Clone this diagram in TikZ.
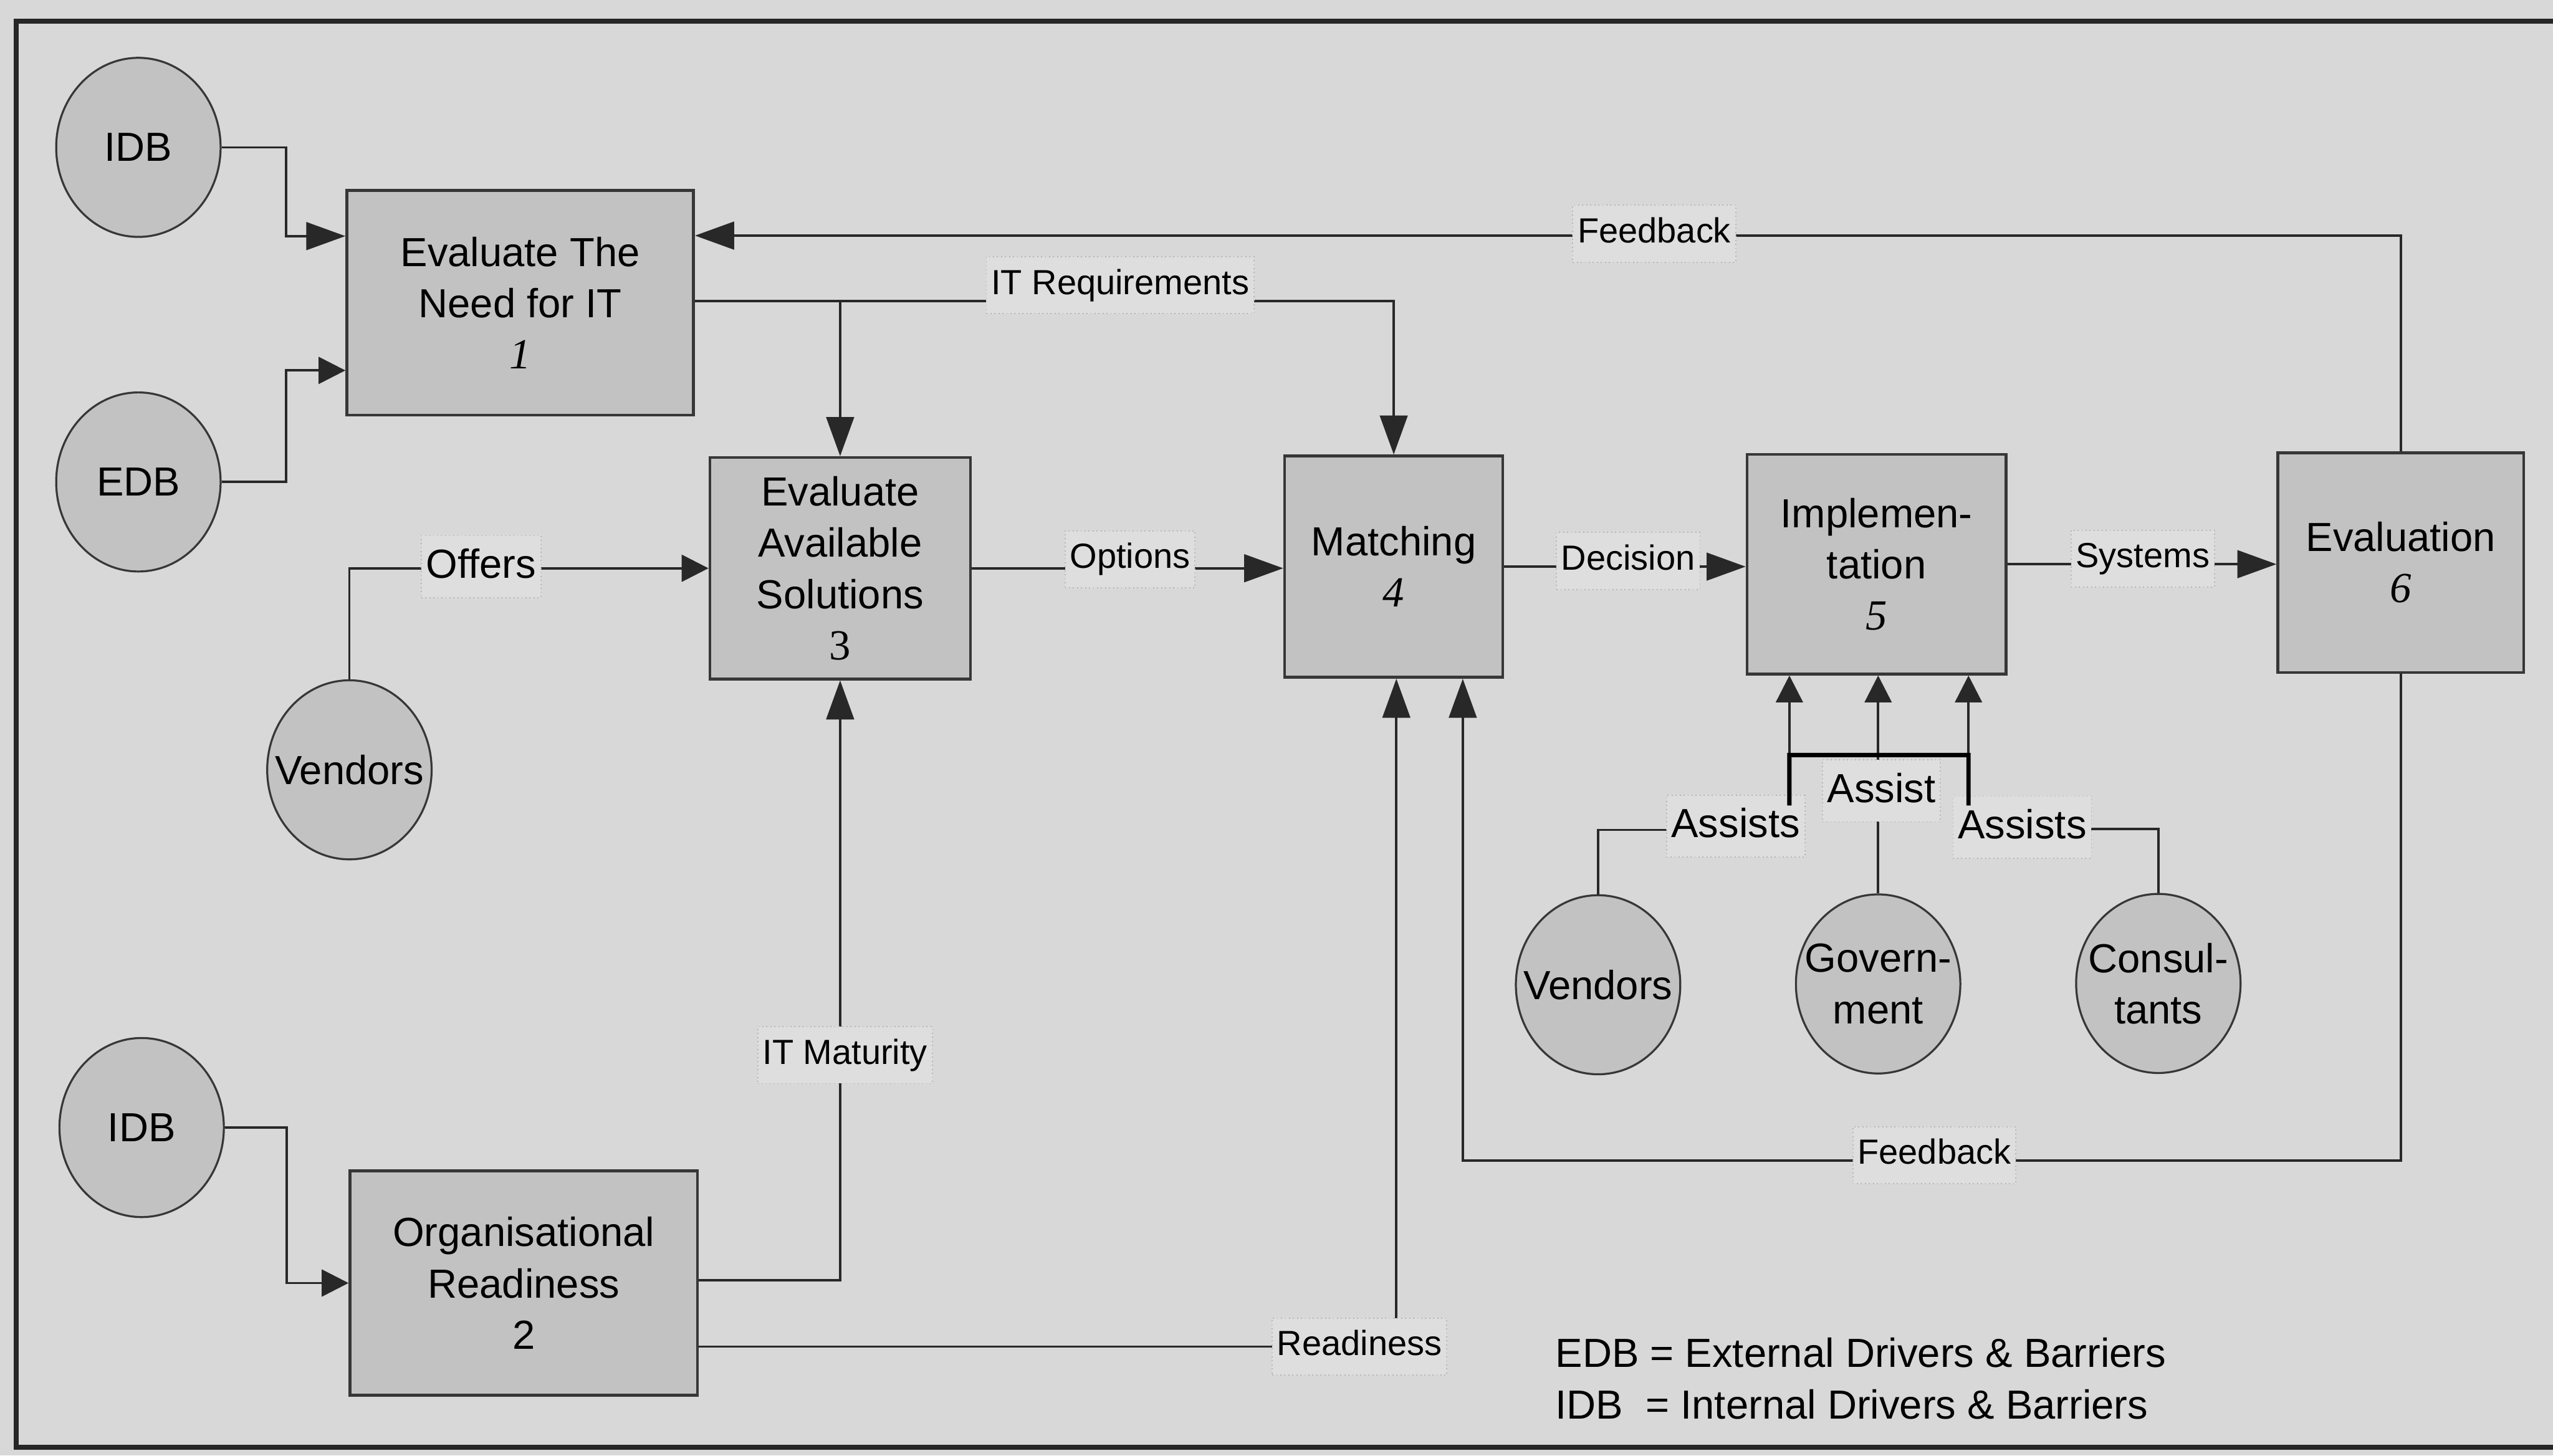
\documentclass[tikz,border=0pt]{standalone}
\usepackage{fontspec}
\setmainfont{Liberation Sans}
\newfontfamily\digitserif{Liberation Serif}
\usetikzlibrary{arrows.meta,shapes.geometric,calc}

\definecolor{pagegray}{RGB}{216,216,216}
\definecolor{shapegray}{RGB}{194,194,194}
\definecolor{edgegray}{RGB}{55,55,55}
\definecolor{inkline}{RGB}{40,40,40}
\definecolor{tagfill}{RGB}{222,222,222}
\definecolor{tagedge}{RGB}{182,182,182}

\newcommand\boxfont{\fontsize{14.2}{17.9}\selectfont}
\newcommand\tagfont{\fontsize{12.2}{14}\selectfont}
\newcommand\stepnum[1]{{\digitserif\itshape\fontsize{15}{17.9}\selectfont #1}}
\newcommand\stepnumup[1]{{\digitserif\fontsize{15}{17.9}\selectfont #1}}

\tikzset{
  procbox/.style={rectangle, draw=edgegray, line width=1pt, fill=shapegray,
    align=center, font=\boxfont, inner sep=0pt},
  blob/.style={ellipse, draw=edgegray, line width=0.7pt, fill=shapegray,
    minimum width=2.02cm, minimum height=2.2cm, inner sep=0pt},
  blobtext/.style={font=\boxfont, align=center},
  conn/.style={draw=inkline, line width=0.8pt},
  bigtip/.style={-{Triangle[length=0.48cm,width=0.34cm]}},
  smalltip/.style={-{Triangle[length=0.33cm,width=0.33cm]}},
  tag/.style={fill=tagfill, draw=tagedge, densely dotted, line width=0.4pt,
    anchor=base, font=\tagfont, text height=0.32cm, text depth=0.1cm,
    inner xsep=0.06cm, inner ysep=0.14cm},
  bigtag/.style={tag, font=\boxfont, text height=0.38cm},
  bracket/.style={draw=black, line width=1.5pt},
  frame/.style={draw=black!85, line width=1.7pt},
}

\begin{document}
\begin{tikzpicture}[x=0.02cm, y=-0.02cm]
  % page and frame
  \useasboundingbox (0,0) rectangle (1568,894);
  \fill[pagegray] (0,0) rectangle (1568,894);
  \draw[frame] (1572,13) -- (10,13) -- (10,889) -- (1572,889);

  % process steps
  \node[procbox, minimum width=4.26cm, minimum height=2.76cm] (box1) at (319.5,186)
    {Evaluate The\\Need for IT\\\stepnum{1}};
  \node[procbox, minimum width=4.27cm, minimum height=2.76cm] (box2) at (321.7,788)
    {Organisational\\Readiness\\2};
  \node[procbox, minimum width=3.2cm, minimum height=2.72cm] (box3) at (516,349)
    {Evaluate\\Available\\Solutions\\\stepnumup{3}};
  \node[procbox, minimum width=2.68cm, minimum height=2.72cm] (box4) at (856,348)
    {Matching\\\stepnum{4}};
  \node[procbox, minimum width=3.18cm, minimum height=2.7cm] (box5) at (1152.5,346.5)
    {Implemen-\\tation\\\stepnum{5}};
  \node[procbox, minimum width=3.02cm, minimum height=2.7cm] (box6) at (1474.5,345.5)
    {Evaluation\\\stepnum{6}};

  % drivers, barriers and actors
  \node[blob, label={[blobtext]center:IDB}] (idb1) at (85,90.5) {};
  \node[blob, label={[blobtext]center:EDB}] (edb) at (85,296) {};
  \node[blob, label={[blobtext]center:Vendors}] (vend1) at (214.6,472.8) {};
  \node[blob, label={[blobtext]center:IDB}] (idb2) at (87,692.5) {};
  \node[blob, label={[blobtext]center:Vendors}] (vend2) at (981.5,604.8) {};
  \node[blob, label={[blobtext]center:{Govern-\\ment}}] (gov) at (1153.5,604.3) {};
  \node[blob, label={[blobtext]center:{Consul-\\tants}}] (cons) at (1325.6,604) {};

  % inputs to step 1 and step 2
  \draw[conn, bigtip] (idb1.east) -- ++(39.5,0) |- ($(box1.west)+(0,-41)$);
  \draw[conn, smalltip] (edb.east) -- ++(39.5,0) |- ($(box1.west)+(0,41.5)$);
  \draw[conn, smalltip] (idb2.east) -- ++(38,0) |- (box2.west);

  % feedback to step 1
  \draw[conn, bigtip] (box6.north) |- ($(box1.east)+(0,-41.3)$);

  % IT requirements
  \coordinate (itrq) at ($(box1.east)+(0,-1)$);
  \draw[conn, bigtip] (itrq) -| (box4.north);
  \draw[conn, bigtip] (box3.north |- itrq) -- (box3.north);

  % main chain
  \draw[conn, smalltip] (vend1.north) |- (box3.west);
  \draw[conn, bigtip] (box3.east) -- (box3.east -| box4.west);
  \draw[conn, bigtip] (box4.east) -- (box4.east -| box5.west);
  \draw[conn, bigtip] (box5.east) -- (box5.east -| box6.west);

  % readiness and maturity
  \draw[conn, bigtip] ($(box2.east)+(0,-1.7)$) -| (box3.south);
  \draw[conn, bigtip] ($(box2.east)+(0,39)$) -| ($(box4.south)+(1.6,0)$);

  % feedback to matching
  \draw[conn, bigtip] (box6.south) -- ++(0,299) -| ($(box4.south)+(42.4,0)$);

  % assistance to implementation
  \coordinate (asL) at (1099,509.7);
  \coordinate (asR) at (1209,509);
  \draw[conn, smalltip] (vend2.north) |- (asL) -- (box5.south -| asL);
  \draw[conn, smalltip] (gov.north) -- (box5.south -| gov.north);
  \draw[conn, smalltip] (cons.north) |- (asR) -- (box5.south -| asR);

  % flow labels
  \node[tag] (tFbTop) at (1016,149) {Feedback};
  \node[tag] (tItReq) at (688,180.7) {IT Requirements};
  \node[bigtag] (tOffers) at (295.5,355) {Offers};
  \node[tag] (tOptions) at (694,349) {Options};
  \node[tag] (tDecision) at (1000,350) {Decision};
  \node[tag] (tSystems) at (1316,348.6) {Systems};
  \node[tag] (tItMat) at (519,653.5) {IT Maturity};
  \node[tag] (tReady) at (835,832.5) {Readiness};
  \node[tag] (tFbLow) at (1188,715) {Feedback};
  \node[bigtag] (tAssistsL) at (1066,514.4) {Assists};
  \node[bigtag] (tAssist) at (1155.5,492.7) {Assist};
  \node[bigtag] (tAssistsR) at (1242,515) {Assists};

  % joining bracket under implementation
  \coordinate (brL) at ($(asL)+(0,-46)$);
  \coordinate (brR) at ($(asR)+(0,-45.3)$);
  \draw[bracket] ($(brL)+(0,31)$) -- (brL) -- (brR) -- ($(brR)+(0,31)$);

  % legend
  \node[anchor=base west, font=\boxfont, inner sep=0pt] (legE) at (955,839.5)
    {EDB = External Drivers \& Barriers};
  \node[anchor=base west, font=\boxfont, inner sep=0pt] (legI) at (955,871.5)
    {IDB\ \ = Internal Drivers \& Barriers};
\end{tikzpicture}
\end{document}
